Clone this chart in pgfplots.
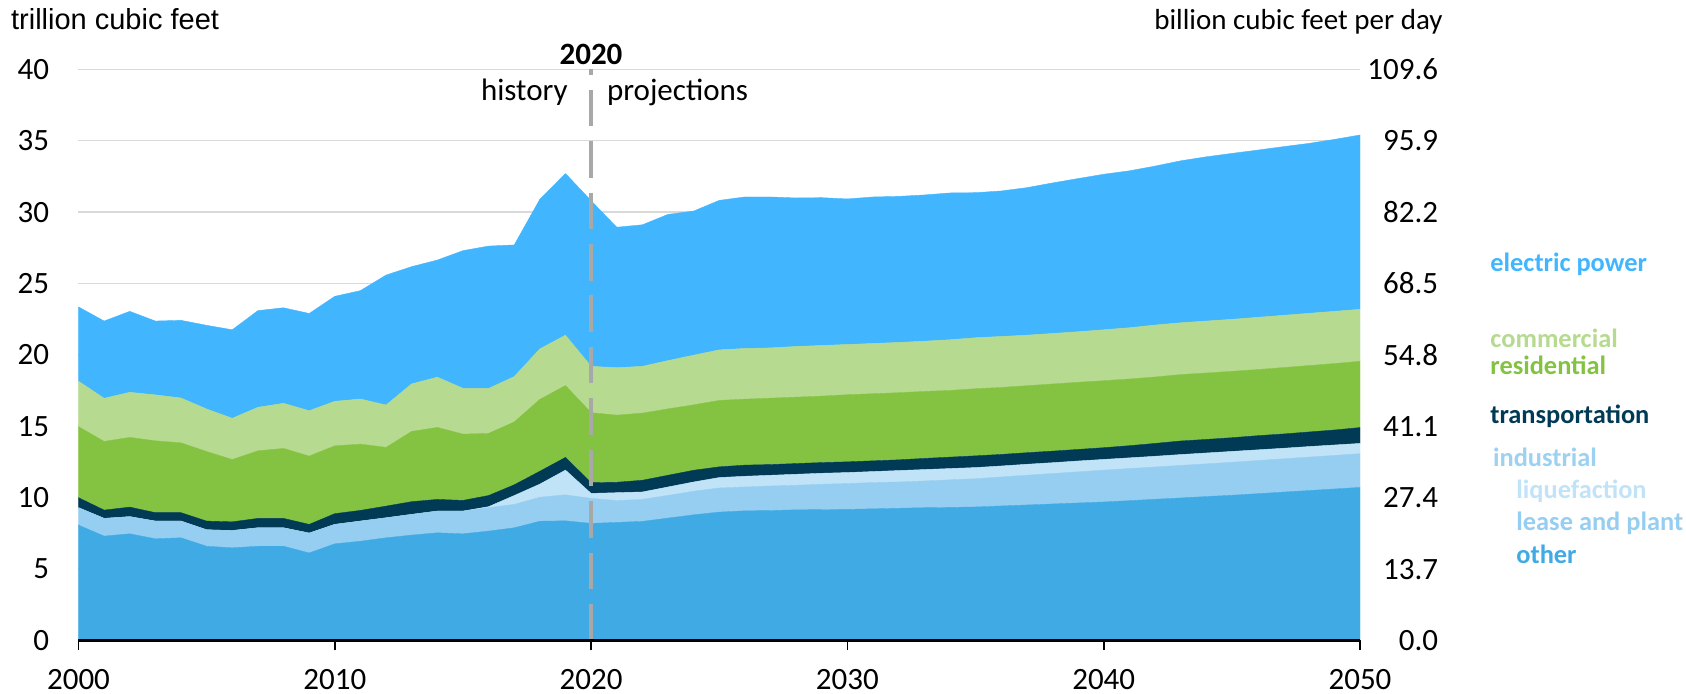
\documentclass[border=0pt]{standalone}
\usepackage{fontspec}
\setmainfont{Carlito}
\newfontfamily\arialfont{Liberation Sans}
\usepackage{pgfplots}
\usepackage{pgfplotstable}
\pgfplotsset{compat=1.18}

\definecolor{celec}{RGB}{65,182,255}
\definecolor{ccom}{RGB}{181,218,144}
\definecolor{cres}{RGB}{132,195,65}
\definecolor{ctrans}{RGB}{0,58,85}
\definecolor{cliq}{RGB}{192,227,248}
\definecolor{clease}{RGB}{150,206,241}
\definecolor{cother}{RGB}{64,170,229}
\definecolor{cind}{RGB}{157,209,242}
\definecolor{gridgray}{RGB}{217,217,217}
\definecolor{dashgray}{RGB}{168,168,168}

\pgfplotstableread{
year other lease liq trans res com elec
2000 8.08 1.22 0.00 0.70 4.97 3.19 5.20
2001 7.31 1.24 0.00 0.58 4.81 3.02 5.41
2002 7.47 1.20 0.00 0.67 4.88 3.16 5.67
2003 7.12 1.24 0.00 0.59 5.03 3.22 5.17
2004 7.19 1.17 0.00 0.59 4.89 3.14 5.44
2005 6.60 1.15 0.00 0.61 4.87 2.98 5.86
2006 6.49 1.21 0.00 0.61 4.36 2.89 6.20
2007 6.60 1.29 0.00 0.66 4.73 3.05 6.77
2008 6.60 1.29 0.00 0.66 4.90 3.16 6.69
2009 6.13 1.39 0.00 0.61 4.78 3.18 6.81
2010 6.77 1.36 0.00 0.75 4.75 3.12 7.35
2011 6.95 1.41 0.00 0.75 4.64 3.16 7.59
2012 7.19 1.40 0.00 0.82 4.11 2.97 9.10
2013 7.38 1.45 0.00 0.89 4.92 3.33 8.21
2014 7.54 1.52 0.00 0.82 5.04 3.52 8.20
2015 7.47 1.59 0.00 0.75 4.64 3.21 9.64
2016 7.66 1.64 0.07 0.78 4.35 3.15 9.97
2017 7.89 1.64 0.62 0.75 4.40 3.18 9.22
2018 8.35 1.68 0.92 0.90 5.03 3.54 10.48
2019 8.38 1.82 1.73 0.89 5.03 3.53 11.32
2020 8.20 1.75 0.35 0.75 4.90 3.25 11.60
2021 8.27 1.53 0.55 0.73 4.70 3.32 9.84
2022 8.34 1.54 0.52 0.82 4.70 3.28 9.91
2023 8.57 1.59 0.59 0.82 4.65 3.38 10.24
2024 8.80 1.65 0.65 0.82 4.58 3.48 10.09
2025 8.99 1.69 0.73 0.75 4.65 3.54 10.47
2026 9.08 1.67 0.75 0.78 4.62 3.55 10.61
2027 9.10 1.72 0.75 0.75 4.65 3.52 10.57
2028 9.15 1.72 0.77 0.75 4.65 3.55 10.40
2029 9.17 1.77 0.77 0.75 4.65 3.55 10.35
2030 9.18 1.81 0.77 0.75 4.70 3.52 10.19
2031 9.22 1.84 0.77 0.75 4.70 3.52 10.26
2032 9.26 1.84 0.80 0.75 4.70 3.52 10.23
2033 9.30 1.87 0.80 0.78 4.69 3.52 10.24
2034 9.32 1.93 0.79 0.80 4.67 3.55 10.28
2035 9.35 1.98 0.78 0.82 4.70 3.57 10.16
2036 9.42 2.03 0.77 0.81 4.69 3.57 10.19
2037 9.49 2.08 0.77 0.81 4.69 3.54 10.33
2038 9.56 2.13 0.76 0.81 4.70 3.54 10.54
2039 9.63 2.18 0.76 0.81 4.70 3.54 10.73
2040 9.70 2.23 0.75 0.82 4.69 3.57 10.89
2041 9.79 2.25 0.75 0.85 4.67 3.59 10.99
2042 9.89 2.26 0.75 0.90 4.65 3.64 11.13
2043 9.98 2.28 0.76 0.95 4.65 3.63 11.34
2044 10.08 2.29 0.76 0.95 4.65 3.64 11.50
2045 10.17 2.31 0.76 0.96 4.65 3.64 11.62
2046 10.28 2.32 0.75 0.99 4.63 3.66 11.71
2047 10.39 2.33 0.74 1.00 4.65 3.66 11.81
2048 10.50 2.34 0.74 1.02 4.65 3.66 11.90
2049 10.61 2.35 0.73 1.05 4.65 3.66 12.04
2050 10.72 2.36 0.72 1.11 4.64 3.64 12.21
}\gasdata

\begin{document}
\begin{tikzpicture}
\useasboundingbox (-39.25pt,-26.75pt) rectangle (803.75pt,320.25pt);
\begin{axis}[
  at={(0pt,0pt)}, anchor=south west,
  scale only axis, width=640.75pt, height=285.6pt,
  xmin=2000, xmax=2050, ymin=0, ymax=40,
  stack plots=y,
  axis x line*=bottom, axis y line*=left,
  x axis line style={draw=none}, y axis line style={draw=none},
  xtick={2000,2010,2020,2030,2040,2050},
  xticklabels={2000,2010,2020,2030,2040,2050},
  ytick={0,5,10,15,20,25,30,35,40},
  yticklabels={0,5,10,15,20,25,30,35,40},
  tick align=outside, major tick length=5pt,
  xtick style={draw=black, line width=0.8pt},
  ytick style={draw=none},
  ymajorgrids, grid style={draw=gridgray, line width=0.7pt},
  tick label style={font=\fontsize{15.5}{18}\selectfont},
  xticklabel style={anchor=north, inner sep=0pt, yshift=-9pt},
  yticklabel style={anchor=east, inner sep=0pt, xshift=-9.5pt},
  clip=false,
]
\addplot[fill=cother, draw=cother, line width=0.2pt] table[x=year, y=other] {\gasdata} \closedcycle;
\addplot[fill=clease, draw=clease, line width=0.2pt] table[x=year, y=lease] {\gasdata} \closedcycle;
\addplot[fill=cliq, draw=cliq, line width=0.2pt] table[x=year, y=liq] {\gasdata} \closedcycle;
\addplot[fill=ctrans, draw=ctrans, line width=0.2pt] table[x=year, y=trans] {\gasdata} \closedcycle;
\addplot[fill=cres, draw=cres, line width=0.2pt] table[x=year, y=res] {\gasdata} \closedcycle;
\addplot[fill=ccom, draw=ccom, line width=0.2pt] table[x=year, y=com] {\gasdata} \closedcycle;
\addplot[fill=celec, draw=celec, line width=0.2pt] table[x=year, y=elec] {\gasdata} \closedcycle;
\coordinate (dtop) at (axis cs:2020,40);
\coordinate (dbot) at (axis cs:2020,0);
\coordinate (xa) at (axis cs:2000,0);
\coordinate (xb) at (axis cs:2050,0);
\end{axis}
\begin{axis}[
  at={(0pt,0pt)}, anchor=south west,
  scale only axis, width=640.75pt, height=285.6pt,
  xmin=2000, xmax=2050, ymin=0, ymax=109.6,
  hide x axis, axis y line*=right, y axis line style={draw=none},
  ytick={0,13.7,27.4,41.1,54.8,68.5,82.2,95.9,109.6},
  yticklabels={0.0,13.7,27.4,41.1,54.8,68.5,82.2,95.9,109.6},
  ytick style={draw=none},
  tick label style={font=\fontsize{15.5}{18}\selectfont},
  yticklabel style={anchor=east, inner sep=0pt, xshift=39.2pt},
]
\end{axis}
% dashed divider and x axis line on top of the areas
\draw[dashgray, line width=2.2pt, dash pattern=on 18.3pt off 7.4pt, dash phase=15.4pt]
  (dtop) -- (dbot);
\draw[black, line width=1.2pt] (xa) -- (xb);
% titles
\node[anchor=base west, inner sep=0pt, font=\arialfont\fontsize{14.5}{17}\selectfont] at (-33.9pt,305.25pt) {trillion cubic feet};
\node[anchor=base east, inner sep=0pt, font=\fontsize{14.5}{17}\selectfont] at (682.25pt,305.6pt) {billion cubic feet per day};
\node[anchor=center, inner sep=0pt, font=\bfseries\fontsize{15.5}{18}\selectfont] at (256.25pt,293.25pt) {2020};
\node[anchor=base east, inner sep=0pt, font=\fontsize{15.5}{18}\selectfont] at (244.75pt,269.75pt) {history};
\node[anchor=base west, inner sep=0pt, font=\fontsize{15.5}{18}\selectfont] at (264.1pt,269.75pt) {projections};
% sector labels
\begin{scope}[every node/.style={anchor=base west, inner sep=0pt, font=\bfseries\fontsize{13.2}{16}\selectfont}]
\node[text=celec] at (705.75pt,184.4pt) {electric power};
\node[text=ccom] at (705.75pt,146.6pt) {commercial};
\node[text=cres] at (705.75pt,132.75pt) {residential};
\node[text=ctrans] at (705.75pt,108.25pt) {transportation};
\node[text=cind] at (707.1pt,86.9pt) {industrial};
\node[text=cliq] at (718.75pt,71.1pt) {liquefaction};
\node[text=clease] at (718.75pt,54.9pt) {lease and plant};
\node[text=cother] at (718.75pt,38.6pt) {other};
\end{scope}
\end{tikzpicture}
\end{document}
